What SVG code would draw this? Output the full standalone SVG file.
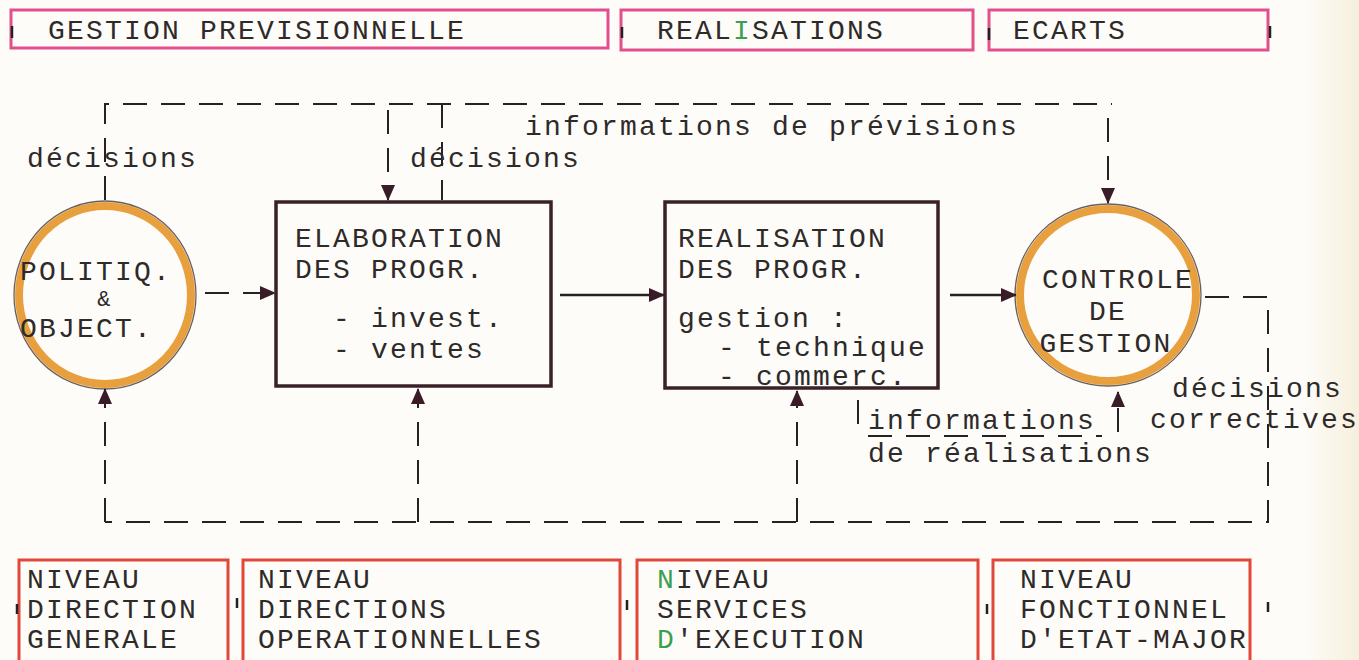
<svg xmlns="http://www.w3.org/2000/svg" width="1359" height="660" viewBox="0 0 1359 660">
  <defs>
    <linearGradient id="paper" x1="0" y1="0" x2="1" y2="0">
      <stop offset="0" stop-color="#fdfcf9"/>
      <stop offset="0.96" stop-color="#fdfcf8"/>
      <stop offset="1" stop-color="#f6efdc"/>
    </linearGradient>
    <marker id="arrow" viewBox="0 0 16 14" refX="15" refY="7" markerWidth="16" markerHeight="14" markerUnits="userSpaceOnUse" orient="auto">
      <path d="M0,0 L16,7 L0,14 Z" fill="#3a1c28"/>
    </marker>
    <style>
      text { font-family: "Liberation Mono", "DejaVu Sans Mono", monospace; font-size: 28px; letter-spacing: 2.2px; fill: #2e2a2a; }
      .head { fill: none; stroke: #e2508c; stroke-width: 3; }
      .level { fill: none; stroke: #e2483a; stroke-width: 3; }
      .box { fill: none; stroke: #3a2028; stroke-width: 3.5; }
      .ring { fill: none; stroke: #e8a03e; stroke-width: 8; }
      .ring-edge { fill: none; stroke: #2a1e1a; stroke-width: 1.3; opacity: 0.7; }
      .dash { fill: none; stroke: #262222; stroke-width: 2; stroke-dasharray: 24 14; }
      .solid { fill: none; stroke: #262222; stroke-width: 2.5; }
      .tick { stroke: #222; stroke-width: 2.5; }
      .green { fill: #3aa050; }
      .mid { text-anchor: middle; }
      .amp { font-size: 22px; }
    </style>
  </defs>

  <rect x="0" y="0" width="1359" height="660" fill="url(#paper)"/>

  <!-- header bands -->
  <g id="head-previsionnelle">
    <rect class="head" x="11" y="10" width="597" height="38"/>
    <text x="48" y="39">GESTION PREVISIONNELLE</text>
  </g>
  <g id="head-realisations">
    <rect class="head" x="621" y="10" width="352" height="40"/>
    <text x="657" y="39">REAL<tspan class="green">I</tspan>SATIONS</text>
  </g>
  <g id="head-ecarts">
    <rect class="head" x="989" y="10" width="279" height="40"/>
    <text x="1013" y="39">ECARTS</text>
  </g>
  <g id="head-ticks">
    <line class="tick" x1="12" y1="26" x2="12" y2="38"/>
    <line class="tick" x1="622" y1="27" x2="622" y2="38"/>
    <line class="tick" x1="989" y1="28" x2="989" y2="40"/>
    <line class="tick" x1="1270" y1="26" x2="1270" y2="38"/>
  </g>

  <!-- connectors -->
  <g id="connectors">
    <!-- forecast loop along the top -->
    <polyline class="dash" points="105,200 105,104 1112,104"/>
    <line class="dash" x1="388" y1="110" x2="388" y2="200" marker-end="url(#arrow)"/>
    <line class="dash" x1="442" y1="104" x2="442" y2="200"/>
    <line class="dash" x1="1108" y1="118" x2="1108" y2="203" marker-end="url(#arrow)"/>
    <!-- main chain -->
    <line class="dash" x1="205" y1="293" x2="275" y2="293" stroke-dasharray="14 6" marker-end="url(#arrow)"/>
    <line class="solid" x1="560" y1="295" x2="664" y2="295" marker-end="url(#arrow)"/>
    <line class="solid" x1="950" y1="295" x2="1016" y2="295" marker-end="url(#arrow)"/>
    <!-- corrective loop along the bottom -->
    <polyline class="dash" points="1205,297 1268,297 1268,522 105,522"/>
    <line class="dash" x1="105" y1="522" x2="105" y2="389" marker-end="url(#arrow)"/>
    <line class="dash" x1="418" y1="522" x2="418" y2="389" marker-end="url(#arrow)"/>
    <line class="dash" x1="797" y1="522" x2="797" y2="391" marker-end="url(#arrow)"/>
    <line class="dash" x1="1118" y1="432" x2="1118" y2="392" stroke-dasharray="14 8" marker-end="url(#arrow)"/>
    <line class="dash" x1="858" y1="400" x2="858" y2="424"/>
  </g>

  <!-- connector labels -->
  <g id="labels">
    <text x="27" y="167">décisions</text>
    <text x="410" y="167">décisions</text>
    <text x="525" y="135">informations de prévisions</text>
    <text x="868" y="429">informations</text>
    <line class="dash" x1="868" y1="436" x2="1102" y2="436" stroke-dasharray="30 12"/>
    <text x="868" y="462">de réalisations</text>
    <text x="1172" y="397">décisions</text>
    <text x="1150" y="428">correctives</text>
  </g>

  <!-- nodes -->
  <g id="politique">
    <ellipse class="ring" cx="105" cy="295" rx="86" ry="89"/>
    <ellipse class="ring-edge" cx="105" cy="295" rx="91" ry="94"/>
    <text x="20" y="280">POLITIQ.</text>
    <text class="mid amp" x="105" y="306">&amp;</text>
    <text x="20" y="337">OBJECT.</text>
  </g>

  <g id="elaboration">
    <rect class="box" x="276" y="202" width="275" height="184"/>
    <text x="295" y="247">ELABORATION</text>
    <text x="295" y="278">DES PROGR.</text>
    <text x="333" y="327">- invest.</text>
    <text x="333" y="358">- ventes</text>
  </g>

  <g id="realisation">
    <rect class="box" x="665" y="202" width="273" height="186"/>
    <text x="678" y="247">REALISATION</text>
    <text x="678" y="278">DES PROGR.</text>
    <text x="678" y="327">gestion :</text>
    <text x="718" y="356">- technique</text>
    <text x="718" y="385">- commerc.</text>
  </g>

  <g id="controle">
    <ellipse class="ring" cx="1108" cy="295" rx="88" ry="86"/>
    <ellipse class="ring-edge" cx="1108" cy="295" rx="93" ry="91"/>
    <text class="mid" x="1118" y="288">CONTROLE</text>
    <text class="mid" x="1108" y="320">DE</text>
    <text class="mid" x="1106" y="352">GESTION</text>
  </g>

  <!-- organisational levels -->
  <g id="niveau-direction-generale">
    <rect class="level" x="19" y="560" width="209" height="104"/>
    <text x="27" y="588">NIVEAU</text>
    <text x="27" y="618">DIRECTION</text>
    <text x="27" y="648">GENERALE</text>
  </g>
  <g id="niveau-directions-operationnelles">
    <rect class="level" x="243" y="560" width="377" height="104"/>
    <text x="258" y="588">NIVEAU</text>
    <text x="258" y="618">DIRECTIONS</text>
    <text x="258" y="648">OPERATIONNELLES</text>
  </g>
  <g id="niveau-services-execution">
    <rect class="level" x="637" y="560" width="341" height="104"/>
    <text x="657" y="588"><tspan class="green">N</tspan>IVEAU</text>
    <text x="657" y="618">SERVICES</text>
    <text x="657" y="648"><tspan class="green">D</tspan>'EXECUTION</text>
  </g>
  <g id="niveau-fonctionnel">
    <rect class="level" x="993" y="560" width="257" height="104"/>
    <text x="1020" y="588">NIVEAU</text>
    <text x="1020" y="618">FONCTIONNEL</text>
    <text x="1020" y="648">D'ETAT-MAJOR</text>
  </g>
  <g id="level-ticks">
    <line class="tick" x1="17" y1="604" x2="17" y2="614"/>
    <line class="tick" x1="237" y1="598" x2="237" y2="608"/>
    <line class="tick" x1="627" y1="600" x2="627" y2="610"/>
    <line class="tick" x1="987" y1="604" x2="987" y2="614"/>
    <line class="tick" x1="1268" y1="602" x2="1268" y2="612"/>
  </g>
</svg>
